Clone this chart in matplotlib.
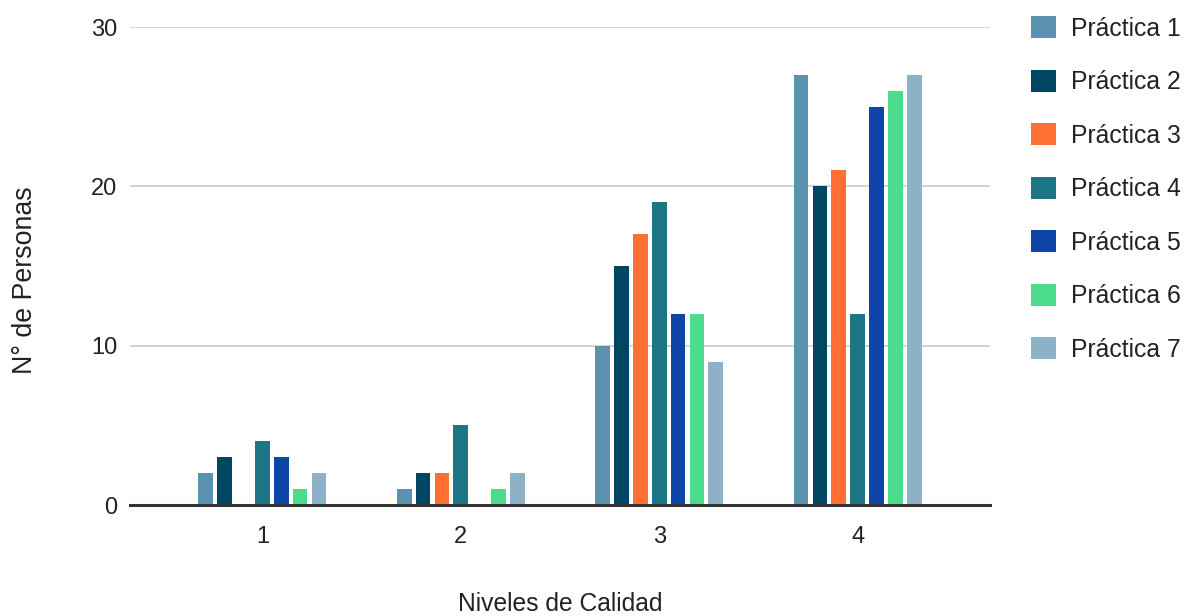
import matplotlib.pyplot as plt
import numpy as np

plt.rcParams['font.family'] = ['Liberation Sans', 'DejaVu Sans']

niveles = ['1', '2', '3', '4']
series = ['Práctica 1', 'Práctica 2', 'Práctica 3', 'Práctica 4',
          'Práctica 5', 'Práctica 6', 'Práctica 7']
practica_1 = [2, 1, 10, 27]
practica_2 = [3, 2, 15, 20]
practica_3 = [0, 2, 17, 21]
practica_4 = [4, 5, 19, 12]
practica_5 = [3, 0, 12, 25]
practica_6 = [1, 1, 12, 26]
practica_7 = [2, 2, 9, 27]
colores = ['#5A92AF', '#004561', '#FF6F31', '#1C7685',
           '#0F45A8', '#4DDB8C', '#8DB2C7']

valores = [practica_1, practica_2, practica_3, practica_4,
           practica_5, practica_6, practica_7]

fig = plt.figure(figsize=(11.85, 6.16), dpi=100)
ax = fig.add_axes([130 / 1185, 1 - 505 / 616, 860 / 1185, 478 / 616])

x = np.arange(1, len(niveles) + 1)
paso = 0.095
ancho = 0.074
for i, (nombre, vals, c) in enumerate(zip(series, valores, colores)):
    ax.bar(x + (i - 3) * paso, vals, width=ancho, color=c, label=nombre, zorder=3)

ax.set_xlim(1 - 0.667, 4 + 0.667)
ax.set_ylim(0, 30)
ax.set_yticks([0, 10, 20, 30])
ax.set_xticks(x)
ax.set_xticklabels(niveles)
ax.grid(axis='y', color='#CCCCCC', linewidth=1.2, zorder=0)
ax.axhline(0, color='#333333', linewidth=2.2, zorder=4, clip_on=False)
for s in ax.spines.values():
    s.set_visible(False)
ax.tick_params(axis='both', length=0, labelsize=17, colors='#222222')
ax.tick_params(axis='x', pad=15)
ax.tick_params(axis='y', pad=9)

# axis titles placed in figure coords so they stay inside the canvas
fig.text(560 / 1185, 1 - 604 / 616, 'Niveles de Calidad', fontsize=17.7,
         color='#222222', ha='center', va='center')
fig.text(25 / 1185, 1 - 280 / 616, 'N° de Personas', fontsize=19.3,
         color='#222222', ha='center', va='center', rotation=90)

fig.legend(loc='upper left', bbox_to_anchor=(1009 / 1185, 1 + 6 / 616),
           frameon=False, fontsize=17.8, handlelength=1.0, handleheight=1.0,
           labelspacing=1.17, handletextpad=0.6, labelcolor='#222222')

fig.savefig('out.png', dpi=100)
